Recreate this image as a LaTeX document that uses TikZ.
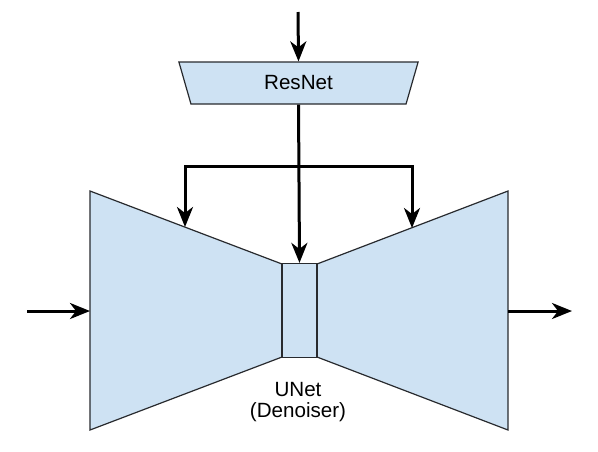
\documentclass[tikz,border=0pt]{standalone}
\usepackage{fontspec}
\setmainfont{Liberation Sans}
\usetikzlibrary{arrows.meta}
\usetikzlibrary{shapes.geometric}
\definecolor{blockfill}{RGB}{206,226,243}
\definecolor{blockline}{RGB}{40,42,46}

\begin{document}
\begin{tikzpicture}[x=0.5pt,y=-0.5pt,
    font=\fontsize{10.3}{10.6}\selectfont,
    block/.style={fill=blockfill, draw=blockline, line width=0.6pt},
    flow/.style={line width=1.5pt, -{Stealth[length=10pt, width=8pt, inset=3pt]}}]
        \useasboundingbox (0,0) rectangle (598,451);
        % coordinates
        \coordinate (input) at (27,311);
        \coordinate (output) at (572,311);
        \coordinate (cond) at (298,12);
        \coordinate (split) at (298,166);
        \coordinate (encin) at (185,227);
        \coordinate (decin) at (412,228);
        % encoder and decoder
        \draw[block] (90,191) -- (282,264) -- (282,357) -- (90,430) -- cycle;
        \draw[block] (508,191) -- (317,264) -- (317,357) -- (508,430) -- cycle;
        \coordinate (encleft) at (90,311);
        \coordinate (decright) at (508,311);
        % nodes
        \node[block, trapezium, trapezium angle=75, shape border rotate=180,
            trapezium stretches=true, minimum width=120pt, minimum height=21pt,
            inner sep=0pt] (resnet) at (298.5,83) {ResNet};
        \node[block, minimum width=17.5pt, minimum height=47pt, inner sep=0pt]
            (bottleneck) at (299.5,310.5) {};
        \node[align=center] (unet) at (298,402) {UNet\\(Denoiser)};
        % arrows
        \draw[flow] (cond) -- (resnet.north);
        \draw[flow] (resnet.south) -- (bottleneck.north);
        \draw[flow] (split) -| (encin);
        \draw[flow] (split) -| (decin);
        \draw[flow] (input) -- (encleft);
        \draw[flow] (decright) -- (output);
\end{tikzpicture}
\end{document}
